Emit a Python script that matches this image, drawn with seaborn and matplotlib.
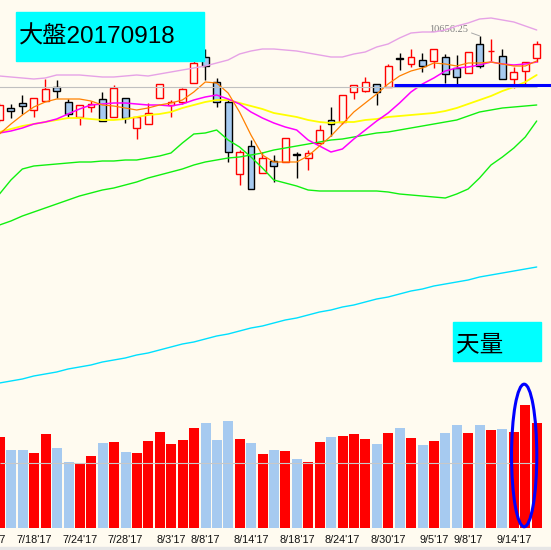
import numpy as np
import pandas as pd
import matplotlib
matplotlib.use("Agg")
import matplotlib.pyplot as plt
from matplotlib.patches import Ellipse, Rectangle
import seaborn as sns

# 交易日 (2017)
dates = ["7/13", "7/14", "7/17", "7/18", "7/19", "7/20", "7/21", "7/24", "7/25", "7/26",
         "7/27", "7/28", "7/31", "8/1", "8/2", "8/3", "8/4", "8/7", "8/8", "8/9",
         "8/10", "8/11", "8/14", "8/15", "8/16", "8/17", "8/18", "8/21", "8/22", "8/23",
         "8/24", "8/25", "8/28", "8/29", "8/30", "8/31", "9/1", "9/4", "9/5", "9/6",
         "9/7", "9/8", "9/11", "9/12", "9/13", "9/14", "9/15", "9/18"]
tick_dates = ["7/18", "7/24", "7/28", "8/3", "8/8", "8/14", "8/18", "8/24", "8/30",
              "9/5", "9/8", "9/14"]
first_label = "7/12"   # 只露出一半的標籤

# K線 (加權指數)
open_ = [10488, 10511.4, 10522, 10508, 10526, 10554.6, 10523.4, 10493.4, 10513.4, 10529.4,
         10493.4, 10531.4, 10471.4, 10479.4, 10531.4, 10518, 10524.6, 10561.4, 10614.6, 10563.4,
         10523.4, 10379.4, 10436.6, 10381.4, 10406, 10403.4, 10420.6, 10412.6, 10441.4, 10487.4,
         10483.4, 10543.4, 10546.6, 10559.4, 10554.6, 10612, 10600, 10608, 10606, 10613.4,
         10591.4, 10582.6, 10639.4, 10625.4, 10615.4, 10569.4, 10586, 10611.4]
high = [10522, 10520, 10538, 10532, 10570, 10568, 10529.4, 10518, 10526.6, 10544.6,
        10558, 10531.4, 10493.4, 10521.4, 10559.4, 10528, 10552.6, 10611.4, 10629.4, 10571.4,
        10528, 10428, 10448, 10424.6, 10418, 10451.4, 10423.4, 10427.4, 10478, 10514.6,
        10538, 10558, 10574.6, 10559.4, 10599.4, 10621.4, 10630, 10621.4, 10629.4, 10619.4,
        10618, 10623.4, 10656.25, 10650, 10630, 10594.6, 10603.4, 10646]
low = [10484, 10492, 10500, 10494, 10526, 10532.6, 10494.6, 10478, 10504.6, 10486.6,
       10493.4, 10481.4, 10449.4, 10479.4, 10531.4, 10493.4, 10520.6, 10561.4, 10568, 10514.6,
       10404.6, 10358, 10349.4, 10381.4, 10363.4, 10403.4, 10372.6, 10388, 10441.4, 10456.6,
       10480, 10530, 10544.6, 10518, 10554.6, 10588, 10594.6, 10584.6, 10591.4, 10561.4,
       10554.6, 10582.6, 10592.6, 10606, 10569.4, 10551.4, 10559.4, 10603.4]
close = [10518, 10506, 10516, 10532, 10550, 10546, 10499.4, 10518, 10520, 10486.6,
         10551.4, 10491.4, 10493.4, 10501.4, 10559.4, 10523.4, 10549.4, 10601.4, 10595.4, 10523.4,
         10423.4, 10423.4, 10349.4, 10411.4, 10396, 10451.4, 10418, 10422, 10467.4, 10479.4,
         10538, 10558, 10563.4, 10543.4, 10595.4, 10610.6, 10613.4, 10595.4, 10629.4, 10579.4,
         10573.4, 10623.4, 10596.6, 10626.4, 10569.4, 10583.4, 10603.4, 10639.4]

# 成交量 (億)
volume = [1183, 1010, 1010, 975, 1222, 1036, 854, 832, 932, 1105,
          1118, 988, 975, 1131, 1248, 1092, 1144, 1300, 1365, 1144,
          1391, 1157, 1105, 962, 1014, 1001, 897, 858, 1118, 1183,
          1196, 1222, 1157, 1092, 1235, 1300, 1170, 1079, 1131, 1235,
          1339, 1235, 1339, 1274, 1287, 1248, 1599, 1365]

# 均線與布林通道
ma5 = [10460, 10480, 10498, 10514, 10524, 10530, 10530, 10530, 10526, 10518,
       10516, 10512, 10508, 10512, 10518, 10522, 10528, 10544, 10564, 10562,
       10542, 10504, 10458, 10418, 10404, 10404, 10404, 10416, 10436, 10456,
       10480, 10504, 10522, 10540, 10560, 10576, 10586, 10592, 10602, 10600,
       10596, 10602, 10602, 10604, 10600, 10596, 10596, 10606]
ma10 = [10462, 10466, 10472, 10480, 10484, 10490, 10500, 10510, 10518, 10520,
        10522, 10522, 10520, 10518, 10518, 10516, 10520, 10528, 10534, 10538,
        10530, 10520, 10504, 10492, 10482, 10474, 10468, 10448, 10436, 10424,
        10430, 10450, 10468, 10486, 10502, 10522, 10544, 10560, 10572, 10586,
        10592, 10594, 10598, 10604, 10600, 10598, 10600, 10604]
ma20 = [10464, 10470, 10476, 10480, 10484, 10488, 10492, 10492, 10490, 10488,
        10488, 10490, 10494, 10498, 10500, 10504, 10512, 10518, 10524, 10528,
        10528, 10522, 10516, 10510, 10502, 10498, 10494, 10488, 10484, 10482,
        10484, 10484, 10488, 10490, 10494, 10496, 10498, 10500, 10502, 10506,
        10512, 10520, 10528, 10536, 10546, 10554, 10564, 10578]
bb_upper = [10576, 10574, 10572, 10570, 10572, 10578, 10578, 10578, 10576, 10574,
            10574, 10576, 10578, 10576, 10580, 10584, 10588, 10592, 10596, 10602,
            10608, 10620, 10626, 10630, 10630, 10628, 10626, 10622, 10618, 10614,
            10614, 10620, 10624, 10634, 10640, 10652, 10662, 10664, 10664, 10668,
            10676, 10682, 10690, 10692, 10688, 10684, 10676, 10668]
bb_lower = [10340, 10368, 10390, 10396, 10398, 10400, 10402, 10404, 10404, 10406,
            10406, 10408, 10408, 10412, 10416, 10422, 10442, 10460, 10462, 10468,
            10448, 10434, 10414, 10392, 10368, 10362, 10356, 10348, 10346, 10346,
            10346, 10346, 10346, 10346, 10344, 10340, 10338, 10336, 10334, 10332,
            10340, 10350, 10372, 10398, 10414, 10432, 10454, 10486]
ma60 = [10278, 10286, 10296, 10304, 10312, 10320, 10328, 10336, 10342, 10348,
        10352, 10358, 10364, 10372, 10378, 10384, 10390, 10398, 10404, 10408,
        10412, 10414, 10418, 10422, 10428, 10432, 10436, 10440, 10444, 10448,
        10450, 10454, 10458, 10462, 10464, 10468, 10472, 10476, 10480, 10484,
        10488, 10496, 10504, 10508, 10512, 10514, 10516, 10518]
ma240 = [9962, 9966, 9970, 9976, 9980, 9984, 9990, 9994, 9998, 10004,
         10008, 10012, 10018, 10022, 10028, 10034, 10040, 10044, 10050, 10056,
         10060, 10066, 10072, 10076, 10082, 10088, 10092, 10098, 10104, 10108,
         10114, 10118, 10124, 10130, 10134, 10140, 10146, 10150, 10156, 10160,
         10164, 10168, 10174, 10178, 10182, 10186, 10190, 10194]

ref_price = 10554      # 灰色參考線
support_price = 10558.6  # 藍色頸線
ref_volume = 845

BG = "#FFFBF0"
RED = "#FF0000"
BLUE = "#A6CAF0"

sns.set_style("white")
plt.rcParams["font.family"] = ["Liberation Sans", "Noto Sans CJK TC", "DejaVu Sans"]

idx = np.arange(len(dates))
o = np.array(open_)
c = np.array(close)
up = c >= o

fig = plt.figure(figsize=(5.51, 5.50), dpi=100, facecolor=BG)
ax = fig.add_axes([0, 0, 1, 1], facecolor="none")
ax_v = fig.add_axes([0, 22.3 / 550, 1, 527.7 / 550], facecolor="none")

# 均線
lines = [(ma240, "#00E0FF", 1.0), (ma60, "#10F010", 1.0), (bb_lower, "#10F010", 1.0),
         (bb_upper, "#E6A2E6", 1.0), (ma20, "#FFFF00", 1.3), (ma10, "#FF00FF", 1.1),
         (ma5, "#FF8000", 0.9)]
for vals, col, lw in lines:
    sns.lineplot(x=idx, y=vals, color=col, linewidth=lw, ax=ax, zorder=4)

# K棒
ax.vlines(idx, low, high, colors=np.where(up, RED, "black"), linewidth=1.0, zorder=2)
ax.bar(idx, np.abs(c - o), bottom=np.minimum(o, c), width=0.6,
       color=np.where(up, BG, BLUE), edgecolor=np.where(up, RED, "black"),
       linewidth=1.0, zorder=3)

ax.hlines(ref_price, 0, 47, color="#C0C0C0", linewidth=0.8, zorder=5)
ax.hlines(support_price, 34.5, 49, color="#0000FF", linewidth=2.2, zorder=6)

top = int(np.argmax(high))
ax.annotate(f"{high[top]:.2f}", xy=(top, high[top]), xytext=(39.3, 10668),
            ha="center", va="center", fontsize=7.5, color="#808080",
            family="Liberation Serif",
            arrowprops=dict(arrowstyle="-", color="#A8A8A8", lw=0.7,
                            shrinkA=0, shrinkB=0, relpos=(1, 0.3)))

ax.set_xlim(0.044, 48.25)
ax.set_ylim(9628, 10728)
ax.axis("off")

# 成交量
vol_df = pd.DataFrame({"idx": idx, "volume": volume,
                       "dir": np.where(up, "up", "down")})
sns.barplot(data=vol_df, x="idx", y="volume", hue="dir",
            palette={"up": RED, "down": BLUE}, dodge=False, native_scale=True,
            width=0.875, saturation=1, errorbar=None, legend=False,
            linewidth=0, ax=ax_v)
ax_v.hlines(ref_volume, 0, 47, color="#C8C8C8", linewidth=0.8, zorder=5)
ax_v.add_patch(Ellipse((45.9, 939), 2.21, 1854, fill=False, edgecolor="#0000FF",
                       linewidth=2.2, zorder=6, clip_on=False))

ax_v.set_xlim(0.044, 48.25)
ax_v.set_ylim(0, 527.7 * 13)
for s in ax_v.spines.values():
    s.set_visible(False)
ax_v.set_yticks([])
ax_v.set_xlabel("")
ax_v.set_ylabel("")
ax_v.set_xticks([dates.index(d) for d in tick_dates])
ax_v.set_xticklabels([d + "'17" for d in tick_dates])
ax_v.set_xticks(idx, minor=True)
ax_v.tick_params(axis="x", which="both", direction="out", length=2.5, width=0.8,
                 color="#606060", pad=2.5, labelsize=7.8, labelcolor="#101010")
ax_v.annotate(first_label + "'17", xy=(-1, 0), xycoords=("data", "axes fraction"),
              xytext=(0, -5), textcoords="offset points", ha="center", va="top",
              fontsize=7.8, color="#101010", annotation_clip=False)

# 標題框
fig.add_artist(Rectangle((16 / 551, 1 - 61 / 550), 188 / 551, 49 / 550,
                         transform=fig.transFigure, color="#00FFFF", zorder=10))
fig.text(19 / 551, 1 - 43.5 / 550, "大盤20170918", fontsize=17.5, va="baseline",
         color="black", zorder=11)
fig.add_artist(Rectangle((453 / 551, 1 - 361 / 550), 88 / 551, 39 / 550,
                         transform=fig.transFigure, color="#00FFFF", zorder=10))
fig.text(456 / 551, 1 - 351 / 550, "天量", fontsize=17, va="baseline",
         color="black", zorder=11)

fig.add_artist(Rectangle((0, 0), 1, 3.5 / 550, transform=fig.transFigure,
                         color="#E6E6E6", zorder=1))

fig.savefig("out.png", dpi=100, facecolor=BG)
